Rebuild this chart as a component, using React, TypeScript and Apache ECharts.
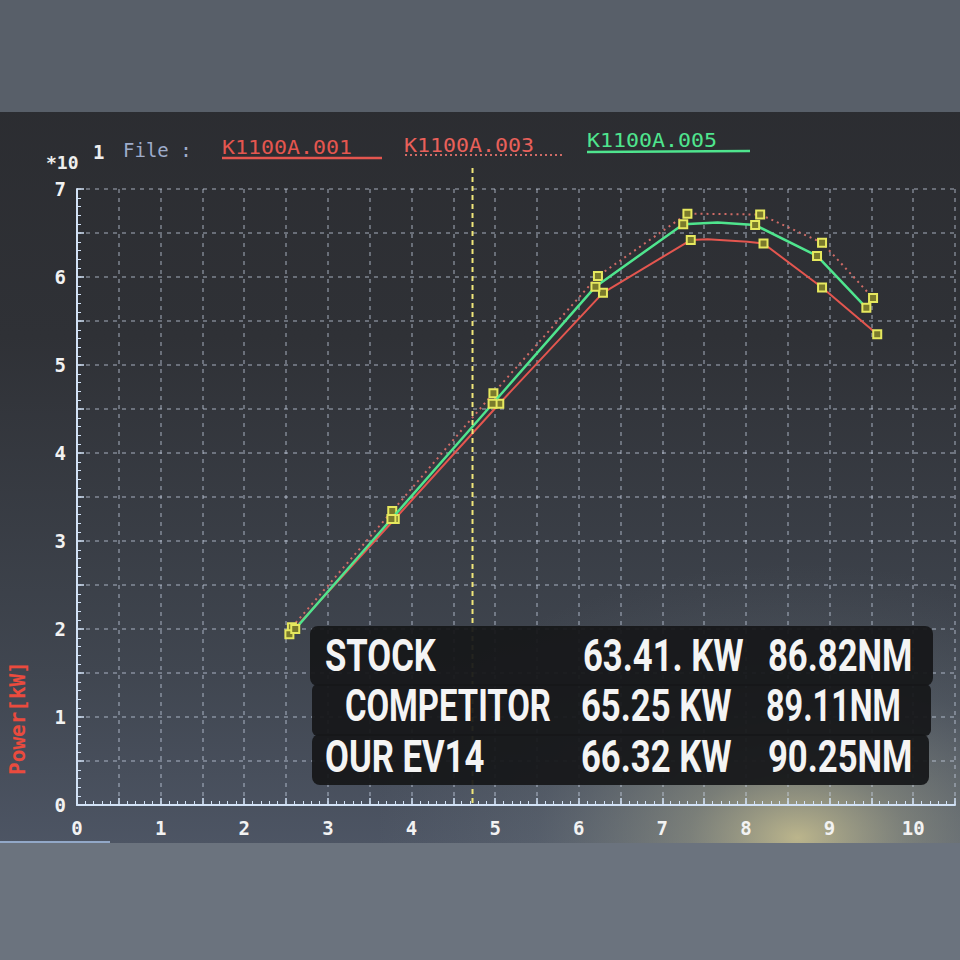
import React, { useEffect, useRef } from "react";
import * as echarts from "echarts";

// K1100A.001 (solid red)
const stockX = [2.54, 3.8, 5.05, 6.29, 7.34, 7.54, 8.02, 8.21, 8.91, 9.57];
const stockY = [1.94, 3.25, 4.56, 5.82, 6.42, 6.43, 6.4, 6.38, 5.88, 5.35];
const stockMarked = [true, true, true, true, true, false, false, true, true, true];

// K1100A.003 (dotted)
const compX = [2.57, 3.77, 4.98, 6.23, 7.3, 8.17, 8.91, 9.52];
const compY = [2.02, 3.34, 4.68, 6.01, 6.72, 6.71, 6.39, 5.76];
const compMarked = [true, true, true, true, true, true, true, true];

// K1100A.005 (green)
const ourX = [2.61, 3.76, 4.97, 6.2, 7.25, 7.66, 8.11, 8.85, 9.44];
const ourY = [2.0, 3.25, 4.56, 5.89, 6.6, 6.62, 6.59, 6.24, 5.65];
const ourMarked = [true, true, true, true, true, false, true, true, true];

const fileNames = ["K1100A.001", "K1100A.003", "K1100A.005"];
const cursorX = 4.73;

const overlayRows = [
  ["STOCK", "63.41. KW", "86.82NM"],
  ["COMPETITOR", "65.25 KW", "89.11NM"],
  ["OUR EV14", "66.32 KW", "90.25NM"],
];

const RED = "#e4564f";
const PINK = "#cf6b66";
const GREEN = "#4fe58e";
const AXIS = "#d2e2f6";

function buildData(xs: number[], ys: number[], marked: boolean[]) {
  return xs.map((x, i) => ({ value: [x, ys[i]], symbol: marked[i] ? "rect" : "none" }));
}

export default function App() {
  const ref = useRef<HTMLDivElement>(null);
  useEffect(() => {
    if (!ref.current) return;
    const chart = echarts.init(ref.current, undefined, { renderer: "svg" });
    const mono = "DejaVu Sans Mono";
    const marker = {
      symbolSize: 8,
      itemStyle: { color: "#7a7a2c", borderColor: "#e6e85e", borderWidth: 2 },
    };
    const rowY = [656, 706, 757];
    const colX = [
      [325, 583, 768],
      [345, 581, 766],
      [325, 581, 768],
    ];
    const colScale = [
      [0.77, 0.77, 0.77],
      [0.73, 0.77, 0.72],
      [0.77, 0.77, 0.77],
    ];
    const overlayTexts: any[] = [];
    overlayRows.forEach((row, r) => {
      row.forEach((t, c) => {
        overlayTexts.push({
          type: "text",
          z: 21,
          x: colX[r][c],
          y: rowY[r],
          scaleX: colScale[r][c],
          style: {
            text: t,
            fill: "#f4f4f4",
            font: "bold 45px Roboto",
            textAlign: "left",
            textVerticalAlign: "middle",
          },
        });
      });
    });

    const baseGraphics: any[] = [
      {
        type: "rect",
        z: -100,
        shape: { x: 0, y: 0, width: 960, height: 960 },
        style: {
          fill: new echarts.graphic.LinearGradient(0, 0, 0, 1, [
            { offset: 0, color: "#2a2b2f" },
            { offset: 0.35, color: "#2f3136" },
            { offset: 0.7, color: "#404650" },
            { offset: 0.88, color: "#4d5564" },
            { offset: 1, color: "#58627a" },
          ]),
        },
      },
      {
        type: "rect",
        z: -99,
        shape: { x: 380, y: 480, width: 580, height: 365 },
        style: {
          fill: new echarts.graphic.RadialGradient(0.72, 0.98, 0.75, [
            { offset: 0, color: "rgba(215,205,150,0.8)" },
            { offset: 0.25, color: "rgba(180,180,150,0.45)" },
            { offset: 0.6, color: "rgba(140,150,150,0.15)" },
            { offset: 1, color: "rgba(120,130,140,0)" },
          ]),
        },
      },
      {
        type: "rect",
        z: -98,
        shape: { x: 0, y: 0, width: 960, height: 112 },
        style: { fill: "#585f69" },
      },
      {
        type: "rect",
        z: -98,
        shape: { x: 0, y: 843, width: 960, height: 117 },
        style: { fill: "#6b737e" },
      },
      {
        type: "line",
        z: -97,
        shape: { x1: 0, y1: 842, x2: 110, y2: 842 },
        style: { stroke: "#92a8c8", lineWidth: 2 },
      },
      {
        type: "text",
        x: 46,
        y: 162,
        style: { text: "*10", fill: "#eeeeee", font: `bold 18px ${mono}`, textVerticalAlign: "middle" },
      },
      {
        type: "text",
        x: 93,
        y: 152,
        style: { text: "1", fill: "#eeeeee", font: `bold 19px ${mono}`, textVerticalAlign: "middle" },
      },
      {
        type: "text",
        x: 123,
        y: 150,
        style: { text: "File :", fill: "#9eaccb", font: `19px ${mono}`, textVerticalAlign: "middle" },
      },
      {
        type: "text",
        x: 222,
        y: 147,
        scaleX: 1.08,
        style: { text: fileNames[0], fill: RED, font: `20px ${mono}`, textVerticalAlign: "middle" },
      },
      {
        type: "line",
        shape: { x1: 222, y1: 158, x2: 382, y2: 158 },
        style: { stroke: RED, lineWidth: 2.5 },
      },
      {
        type: "text",
        x: 404,
        y: 145,
        scaleX: 1.08,
        style: { text: fileNames[1], fill: "#e8605a", font: `20px ${mono}`, textVerticalAlign: "middle" },
      },
      {
        type: "line",
        shape: { x1: 405, y1: 155, x2: 565, y2: 155 },
        style: { stroke: PINK, lineWidth: 2, lineDash: [2, 3] },
      },
      {
        type: "text",
        x: 587,
        y: 140,
        scaleX: 1.08,
        style: { text: fileNames[2], fill: GREEN, font: `20px ${mono}`, textVerticalAlign: "middle" },
      },
      {
        type: "line",
        shape: { x1: 587, y1: 152, x2: 750, y2: 151 },
        style: { stroke: GREEN, lineWidth: 2.5 },
      },
      {
        type: "text",
        x: 18,
        y: 718,
        rotation: Math.PI / 2,
        style: {
          text: "Power[kW]",
          fill: "#ea4b3e",
          font: `bold 21px ${mono}`,
          textAlign: "center",
          textVerticalAlign: "middle",
        },
      },
      {
        type: "rect",
        z: 20,
        shape: { x: 310, y: 626, width: 623, height: 60, r: 8 },
        style: { fill: "rgba(22,23,26,0.94)" },
      },
      {
        type: "rect",
        z: 20,
        shape: { x: 312, y: 684, width: 619, height: 52, r: 6 },
        style: { fill: "rgba(22,23,26,0.94)" },
      },
      {
        type: "rect",
        z: 20,
        shape: { x: 312, y: 734, width: 617, height: 51, r: 8 },
        style: { fill: "rgba(22,23,26,0.94)" },
      },
      ...overlayTexts,
    ];

    const axisCommon = {
      type: "value" as const,
      interval: 0.5,
      axisLine: { show: true, lineStyle: { color: AXIS, width: 2 } },
      axisTick: { show: true, inside: true, length: 7, lineStyle: { color: AXIS, width: 1.5 } },
      minorTick: { show: true, splitNumber: 5, length: 4, lineStyle: { color: AXIS, width: 1 } },
      splitLine: {
        show: true,
        lineStyle: { color: "rgba(205,215,235,0.5)", type: [4, 5] as any, width: 1.5 },
      },
      axisLabel: {
        formatter: (v: number) => (Number.isInteger(v) ? String(v) : ""),
        color: "#f2f2f2",
        fontFamily: mono,
        fontWeight: "bold" as const,
        fontSize: 19,
      },
    };

    const option: any = {
      animation: false,
      backgroundColor: "#2b2c30",
      grid: { left: 77, right: 5, top: 189, bottom: 155, containLabel: false },
      xAxis: { ...axisCommon, min: 0, max: 10.5, axisLabel: { ...axisCommon.axisLabel, margin: 13 } },
      yAxis: { ...axisCommon, min: 0, max: 7, axisLabel: { ...axisCommon.axisLabel, margin: 11 } },
      series: [
        {
          name: fileNames[1],
          type: "line",
          data: buildData(compX, compY, compMarked),
          lineStyle: { color: PINK, width: 2, type: [2, 4] },
          ...marker,
          z: 3,
        },
        {
          name: fileNames[0],
          type: "line",
          data: buildData(stockX, stockY, stockMarked),
          lineStyle: { color: RED, width: 2 },
          ...marker,
          z: 4,
        },
        {
          name: fileNames[2],
          type: "line",
          data: buildData(ourX, ourY, ourMarked),
          lineStyle: { color: GREEN, width: 2.5 },
          ...marker,
          z: 5,
        },
      ],
      graphic: baseGraphics,
    };
    chart.setOption(option);
    const px = chart.convertToPixel({ xAxisIndex: 0 }, cursorX) as number;
    const py0 = chart.convertToPixel({ yAxisIndex: 0 }, 0) as number;
    chart.setOption({
      graphic: [
        ...baseGraphics,
        {
          type: "line",
          z: 10,
          shape: { x1: px, y1: 168, x2: px, y2: py0 },
          style: { stroke: "#f0e67a", lineWidth: 2, lineDash: [5, 4] },
        },
      ],
    });
    return () => chart.dispose();
  }, []);
  return <div ref={ref} style={{ position: "fixed", left: 0, top: 0, width: 960, height: 960 }} />;
}
